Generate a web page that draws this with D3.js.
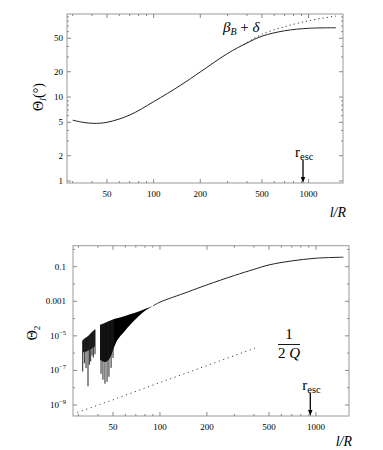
<!DOCTYPE html>
<html>
<head>
<meta charset="utf-8">
<script src="https://cdn.jsdelivr.net/npm/d3@7"></script>
<style>
	body { margin: 0; background: #fff; }
	svg { display: block; }
	svg text { font-family: "Liberation Serif", "Times New Roman", Times, "DejaVu Serif", serif; }
</style>
</head>
<body>
<div id="vis"></div>
<script>

// ---------- top panel data (Theta_I in degrees vs l/R) ----------
var lrTop = [30, 35, 40.8, 50, 70, 100, 150, 200, 300, 400, 500, 700, 1000, 1500];
var thetaI = [5.3, 5.0, 4.86, 5.0, 6.1, 8.8, 13.9, 19.9, 33, 44, 53, 61.5, 65.8, 66.8];

var lrBeta = [380, 500, 700, 1000, 1500];
var betaDelta = [42, 56, 68.7, 81, 92];

// ---------- bottom panel data (Theta_2 vs l/R) ----------
var lrMain = [90.2, 100, 150, 200, 300, 400, 500, 700, 1000, 1500];
var theta2 = [5.4e-4, 8.9e-4, 3.4e-3, 8.9e-3, 0.031, 0.07, 0.127, 0.216, 0.31, 0.354];

// first oscillating cluster: one spike per value
var band1X = [31.97, 32.74, 33.57, 34.57, 35.26, 35.97, 36.68, 37.41, 38.33];
var band1Hi = [5.4e-6, 6.7e-6, 8.0e-6, 9.6e-6, 1.14e-5, 1.36e-5, 1.64e-5, 1.95e-5, 2.3e-5];
var band1Core = [1.0e-6, 1.2e-6, 1.2e-6, 1.4e-6, 1.5e-6, 1.7e-6, 1.9e-6, 2.2e-6, 2.5e-6];
var band1Lo = [8.7e-8, 2.6e-7, 1.36e-7, 1.2e-8, 2.1e-7, 3.3e-7, 7.3e-7, 5.6e-7, 8.7e-7];

// second cluster: envelope + spikes at the bottom
var band2X = [41.3, 44.4, 47.8, 51.5, 59.7, 69.2, 80.2, 90.2];
var band2Hi = [4.3e-5, 5.6e-5, 7.4e-5, 9.6e-5, 1.43e-4, 2.14e-4, 3.6e-4, 5.4e-4];
var band2Lo = [4.1e-7, 3.1e-7, 5.3e-7, 3.0e-6, 1.95e-5, 8.4e-5, 2.8e-4, 5.4e-4];
var spike2X = [41.9, 43.1, 44.4, 45.8, 47.1, 48.6, 50.0];
var spike2Lo = [6.4e-8, 2.9e-8, 1.7e-8, 2.2e-8, 4.3e-8, 1.4e-7, 5.3e-7];
var spike2Hi = [4.6e-5, 5.0e-5, 5.6e-5, 6.3e-5, 7.0e-5, 7.8e-5, 8.7e-5];

var lrQ = [29.5, 50, 100, 200, 406];
var halfInvQ = [3.7e-10, 2.0e-9, 2.0e-8, 1.9e-7, 1.95e-6];

var rEsc = 920;

// ---------- ticks ----------
var xMajor = [50, 100, 200, 500, 1000];
var xMinor = [30, 40, 60, 70, 80, 90, 300, 400, 600, 700, 800, 900];
var y1Major = [1, 2, 5, 10, 20, 50];
var y1Minor = [3, 4, 6, 7, 8, 9, 30, 40, 60, 70, 80, 90];
var y2Major = [0.1, 1e-3, 1e-5, 1e-7, 1e-9];
var y2Labels = ["0.1", "0.001", "10^\u22125", "10^\u22127", "10^\u22129"];
var y2Minor = [1, 1e-2, 1e-4, 1e-6, 1e-8];

var SERIF = "'Liberation Serif', 'Times New Roman', Times, 'DejaVu Serif', serif";

var svg = d3.select("#vis").append("svg")
	.attr("width", 383)
	.attr("height", 450)
	.attr("font-family", SERIF);

// draws a framed log-log panel with inward ticks on all sides
function panel(box, xs, ys, yMaj, yMin, yLab, yLabOff, xLabY) {
	var g = svg.append("g");

	g.append("rect")
		.attr("x", box.x0).attr("y", box.y0)
		.attr("width", box.x1 - box.x0).attr("height", box.y1 - box.y0)
		.attr("fill", "none").attr("stroke", "#999").attr("stroke-width", 1);

	var xt = xMajor.map(function(v){ return {v: v, len: 4}; })
		.concat(xMinor.map(function(v){ return {v: v, len: 2}; }));
	xt.forEach(function(t){
		var x = xs(t.v);
		g.append("line").attr("x1", x).attr("x2", x).attr("y1", box.y1).attr("y2", box.y1 - t.len)
			.attr("stroke", "#888");
		g.append("line").attr("x1", x).attr("x2", x).attr("y1", box.y0).attr("y2", box.y0 + t.len)
			.attr("stroke", "#888");
	});

	var yt = yMaj.map(function(v){ return {v: v, len: 4}; })
		.concat(yMin.map(function(v){ return {v: v, len: 2}; }));
	yt.forEach(function(t){
		var y = ys(t.v);
		if (y < box.y0 || y > box.y1) return;
		g.append("line").attr("x1", box.x0).attr("x2", box.x0 + t.len).attr("y1", y).attr("y2", y)
			.attr("stroke", "#888");
		g.append("line").attr("x1", box.x1).attr("x2", box.x1 - t.len).attr("y1", y).attr("y2", y)
			.attr("stroke", "#888");
	});

	// x tick labels
	g.selectAll("text.xl").data(xMajor).enter().append("text")
		.attr("x", function(d){ return xs(d); })
		.attr("y", box.y1 + 14)
		.attr("text-anchor", "middle")
		.attr("font-size", 9)
		.text(function(d){ return d; });

	// y tick labels
	yMaj.forEach(function(v, i){
		var lab = yLab[i];
		var t = g.append("text")
			.attr("x", box.x0 - yLabOff)
			.attr("y", ys(v) + 3)
			.attr("text-anchor", "end")
			.attr("font-size", 9);
		if (lab.indexOf("^") >= 0) {
			var p = lab.split("^");
			t.append("tspan").text(p[0]);
			t.append("tspan").attr("dy", -4).attr("font-size", 6.5).text(p[1]);
		} else {
			t.text(lab);
		}
	});

	// l/R axis label
	g.append("text")
		.attr("x", box.x1 + 3)
		.attr("y", xLabY)
		.attr("text-anchor", "end")
		.attr("font-size", 14)
		.attr("font-style", "italic")
		.text("l/R");

	// r_esc arrow
	var ax = xs(rEsc);
	g.append("line").attr("x1", ax).attr("x2", ax).attr("y1", box.y1 - 23).attr("y2", box.y1 - 5)
		.attr("stroke", "#000").attr("stroke-width", 1.3);
	g.append("path")
		.attr("d", "M" + (ax - 2.2) + "," + (box.y1 - 6) + "L" + (ax + 2.2) + "," + (box.y1 - 6) + "L" + ax + "," + (box.y1) + "Z")
		.attr("fill", "#000");
	var rt = g.append("text")
		.attr("x", ax - 8)
		.attr("y", box.y1 - 26)
		.attr("font-size", 15);
	rt.append("tspan").text("r");
	rt.append("tspan").attr("dy", 3).attr("font-size", 10.5).text("esc");

	return g;
}

//////////////////////////// TOP PANEL ////////////////////////////
var box1 = {x0: 67, x1: 343, y0: 14, y1: 183};
var x1 = d3.scaleLog().domain([27.6, 1667]).range([box1.x0, box1.x1]);
var y1 = d3.scaleLog().domain([0.947, 97.4]).range([box1.y1, box1.y0]);

var g1 = panel(box1, x1, y1, y1Major, y1Minor, y1Major.map(String), 4, 217);

var line1 = d3.line()
	.x(function(d){ return x1(d[0]); })
	.y(function(d){ return y1(d[1]); })
	.curve(d3.curveCatmullRom.alpha(0.5));

g1.append("path")
	.datum(d3.zip(lrBeta, betaDelta))
	.attr("d", line1)
	.attr("fill", "none").attr("stroke", "#333").attr("stroke-width", 1)
	.attr("stroke-dasharray", "1.2,3");

g1.append("path")
	.datum(d3.zip(lrTop, thetaI))
	.attr("d", line1)
	.attr("fill", "none").attr("stroke", "#222").attr("stroke-width", 1);

var bt = g1.append("text").attr("x", 223).attr("y", 32).attr("font-size", 15).attr("font-style", "italic");
bt.append("tspan").text("\u03b2");
bt.append("tspan").attr("dy", 3).attr("font-size", 10).text("B");
bt.append("tspan").attr("dy", -3).attr("font-style", "normal").text(" + ");
bt.append("tspan").text("\u03b4");

var yl1 = g1.append("text")
	.attr("transform", "translate(43,97) rotate(-90)")
	.attr("text-anchor", "middle")
	.attr("font-size", 14);
yl1.append("tspan").text("\u0398");
yl1.append("tspan").attr("dy", 3).attr("font-size", 9).attr("font-style", "italic").text("I");
yl1.append("tspan").attr("dy", -3).text("(\u00b0)");

//////////////////////////// BOTTOM PANEL ////////////////////////////
var box2 = {x0: 73, x1: 349, y0: 245.7, y1: 416};
var x2 = d3.scaleLog().domain([27.7, 1629]).range([box2.x0, box2.x1]);
var y2 = d3.scaleLog().domain([2.31e-10, 1.64]).range([box2.y1, box2.y0]);

var g2 = panel(box2, x2, y2, y2Major, y2Minor, y2Labels, 7, 446);

var line2 = d3.line()
	.x(function(d){ return x2(d[0]); })
	.y(function(d){ return y2(d[1]); });

// 1/(2Q) dotted
g2.append("path")
	.datum(d3.zip(lrQ, halfInvQ))
	.attr("d", line2)
	.attr("fill", "none").attr("stroke", "#444").attr("stroke-width", 1)
	.attr("stroke-dasharray", "1.2,3.5");

// cluster 1 core + spikes
var area2 = d3.area()
	.x(function(d){ return x2(d[0]); })
	.y0(function(d){ return y2(d[2]); })
	.y1(function(d){ return y2(d[1]); })
	.curve(d3.curveMonotoneX);

g2.append("path")
	.datum(d3.zip(band1X, band1Hi, band1Core))
	.attr("d", area2)
	.attr("fill", "#111");

g2.selectAll("line.s1").data(d3.zip(band1X, band1Hi, band1Lo)).enter().append("line")
	.attr("x1", function(d){ return x2(d[0]); })
	.attr("x2", function(d){ return x2(d[0]); })
	.attr("y1", function(d){ return y2(d[1]); })
	.attr("y2", function(d){ return y2(d[2]); })
	.attr("stroke", "#222").attr("stroke-width", 1);

// cluster 2 envelope + spikes
g2.append("path")
	.datum(d3.zip(band2X, band2Hi, band2Lo))
	.attr("d", area2)
	.attr("fill", "#000");

g2.selectAll("line.s2").data(d3.zip(spike2X, spike2Hi, spike2Lo)).enter().append("line")
	.attr("x1", function(d){ return x2(d[0]); })
	.attr("x2", function(d){ return x2(d[0]); })
	.attr("y1", function(d){ return y2(d[1]); })
	.attr("y2", function(d){ return y2(d[2]); })
	.attr("stroke", "#222").attr("stroke-width", 1);

g2.append("path")
	.datum(d3.zip(lrMain, theta2))
	.attr("d", line2.curve(d3.curveCatmullRom.alpha(0.5)))
	.attr("fill", "none").attr("stroke", "#222").attr("stroke-width", 1);

// 1/(2Q) label
g2.append("text").attr("x", 289).attr("y", 339).attr("text-anchor", "middle").attr("font-size", 15).text("1");
g2.append("line").attr("x1", 278).attr("x2", 300).attr("y1", 344.5).attr("y2", 344.5)
	.attr("stroke", "#000").attr("stroke-width", 0.9);
var qt = g2.append("text").attr("x", 289).attr("y", 358).attr("text-anchor", "middle").attr("font-size", 15);
qt.append("tspan").text("2 ");
qt.append("tspan").attr("font-style", "italic").text("Q");

var yl2 = g2.append("text")
	.attr("transform", "translate(37,333) rotate(-90)")
	.attr("text-anchor", "middle")
	.attr("font-size", 14);
yl2.append("tspan").text("\u0398");
yl2.append("tspan").attr("dy", 3).attr("font-size", 9).text("2");

</script>
</body>
</html>
